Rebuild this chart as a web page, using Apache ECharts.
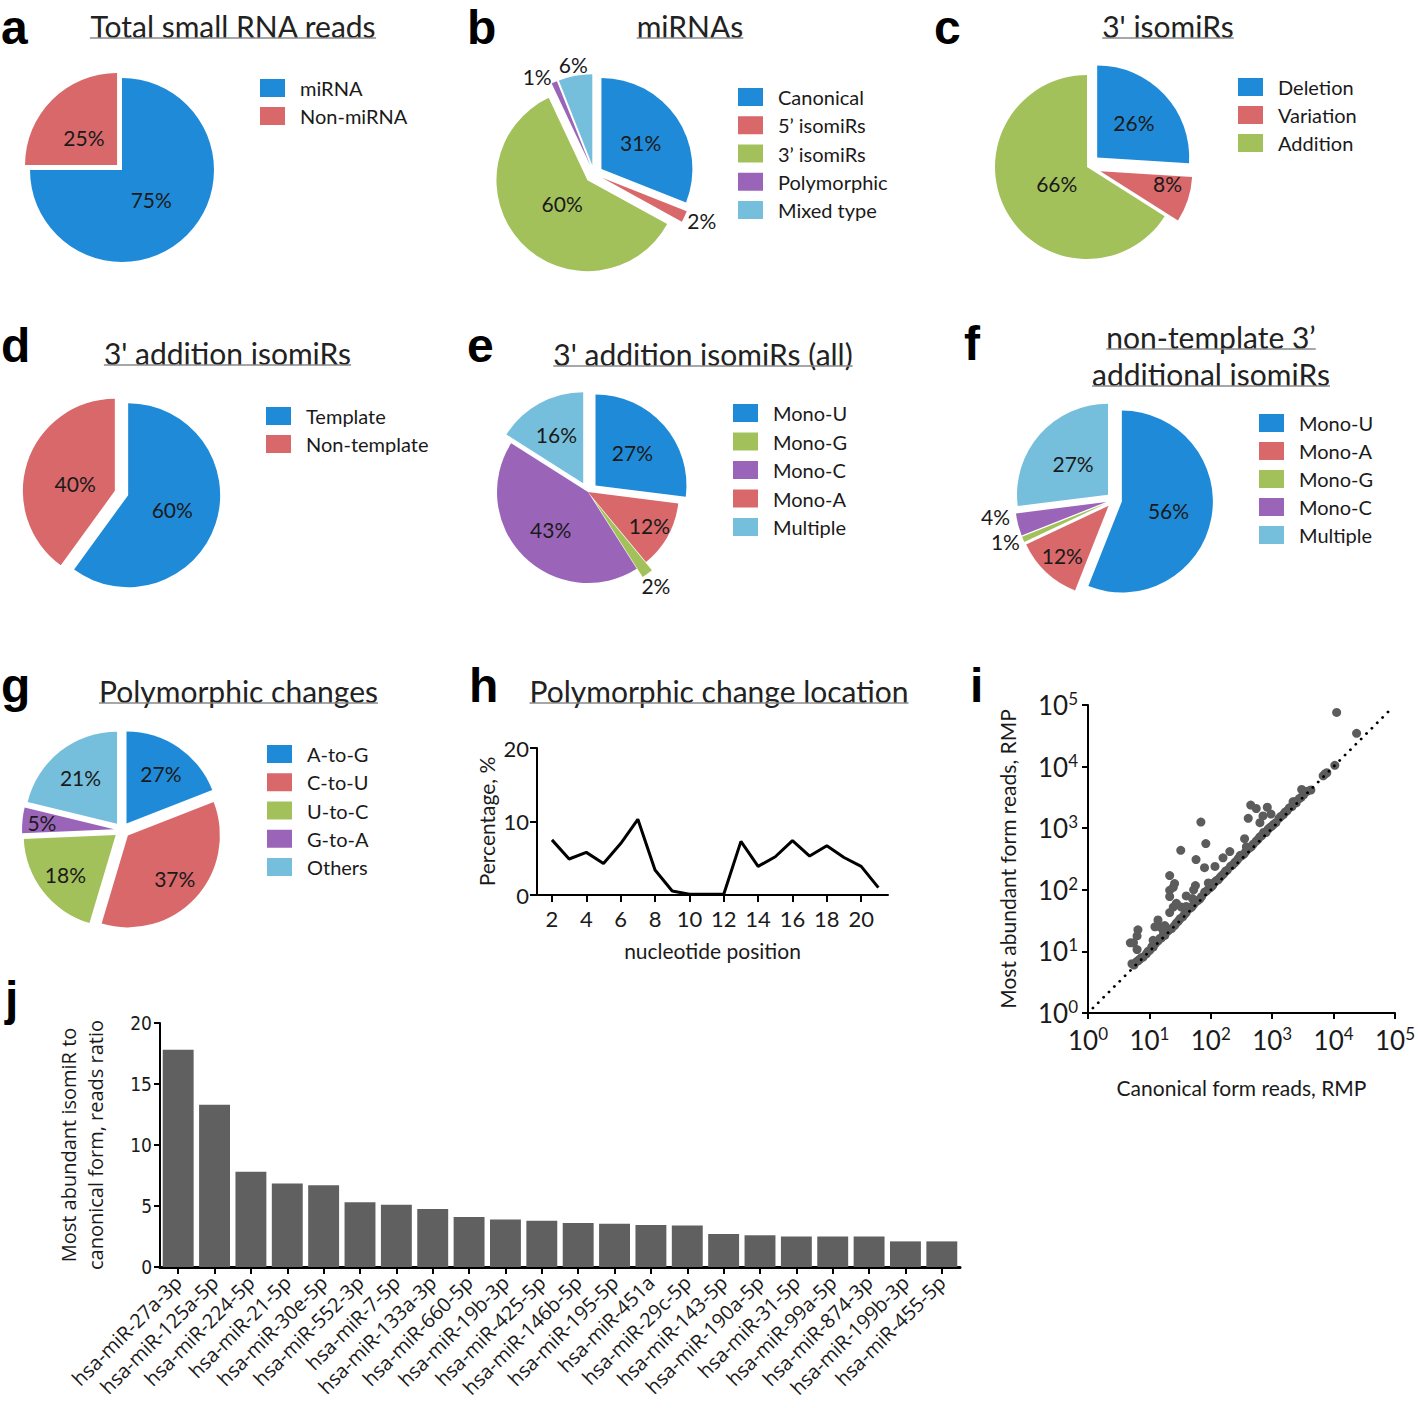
<!DOCTYPE html>
<html><head><meta charset="utf-8">
<script src="https://cdn.jsdelivr.net/npm/echarts@6/dist/echarts.min.js"></script>
<style>html,body{margin:0;padding:0;background:#fff}#c{width:1418px;height:1408px}</style>
</head><body><div id="c"></div>
<script>
// ---------------- DATA ----------------
const aNames = ['miRNA', 'Non-miRNA'];
const aValues = [75, 25];
const bNames = ['Canonical', '5’ isomiRs', '3’ isomiRs', 'Polymorphic', 'Mixed type'];
const bValues = [31, 2, 60, 1, 6];
const cNames = ['Deletion', 'Variation', 'Addition'];
const cValues = [26, 8, 66];
const dNames = ['Template', 'Non-template'];
const dValues = [60, 40];
const eNames = ['Mono-U', 'Mono-A', 'Mono-G', 'Mono-C', 'Multiple'];
const eValues = [27, 12, 2, 43, 16];
const eLegendOrder = ['Mono-U', 'Mono-G', 'Mono-C', 'Mono-A', 'Multiple'];
const fNames = ['Mono-U', 'Mono-A', 'Mono-G', 'Mono-C', 'Multiple'];
const fValues = [56, 12, 1, 4, 27];
const gNames = ['A-to-G', 'C-to-U', 'U-to-C', 'G-to-A', 'Others'];
const gValues = [19.1, 35.5, 19.7, 4.5, 21.2];      // slice sizes as drawn
const gLabels = ['27%', '37%', '18%', '5%', '21%']; // percentages as printed

const hPositions = [2, 3, 4, 5, 6, 7, 8, 9, 10, 11, 12, 13, 14, 15, 16, 17, 18, 19, 20, 21];
const hPercent = [7.5, 4.9, 5.8, 4.3, 7.0, 10.3, 3.4, 0.55, 0.1, 0.1, 0.1, 7.3, 3.9, 5.2, 7.4, 5.3, 6.7, 5.1, 3.9, 1.0];
const hTicks = [2, 4, 6, 8, 10, 12, 14, 16, 18, 20];

// [canonical form reads, most abundant form reads] (RMP)
const iPoints = [
  [5.2,6.3],[5.6,6.0],[6.2,6.8],[6.6,7.1],[6.9,7.4],[7.4,7.9],[7.9,8.1],[8.9,9.1],[9.5,10.0],[10.2,10.5],
  [11.0,12.0],[11.5,11.7],[12.6,13.5],[13.8,14.8],[14.8,16.2],[15.8,16.6],[17.0,19.1],[17.8,18.2],[20.0,21.4],[21.4,22.9],
  [22.9,23.4],[25.7,26.3],[27.5,28.8],[29.5,30.9],[31.6,33.9],[34.7,36.3],[37.2,39.8],[39.8,42.7],[45.7,50.1],[49.0,52.5],
  [52.5,57.5],[56.2,63.1],[60.3,66.1],[66.1,70.8],[70.8,77.6],[79.4,91.2],[85.1,95.5],[93.3,105],[100,110],[107,117],
  [115,132],[123,141],[132,145],[141,158],[151,170],[162,182],[174,200],[186,209],[209,240],[224,251],
  [245,275],[263,295],[282,324],[302,363],[316,355],[347,380],[372,417],[398,457],[427,479],[457,501],
  [490,550],[550,617],[589,661],[631,724],[676,759],[724,851],[794,851],[851,955],[912,1023],[977,1072],
  [1047,1148],[1148,1230],[1288,1445],[1380,1549],[1514,1660],[1622,1820],[1738,1905],[1905,2138],[2089,2239],[2291,2692],
  [2455,2570],[2754,3020],[2951,3162],[3236,3467],[3715,3981],[4266,4169],[6761,7079],[7244,7586],[7762,7943],[10470,10470],
  [11220,75860],[23710,34670],[3020,4266],[2188,2692],[447,2371],[550,2089],[407,1445],[832,2188],[708,1585],[631,1230],
  [955,1698],[69,1259],[83,562],[355,676],[380,501],[32.4,437],[57.5,309],[204,417],[158,331],[79,229],
  [117,240],[21.4,170],[25.7,126],[21.4,98],[24.5,110],[21.4,77.6],[56.2,117],[52.5,100],[91.2,129],[39.8,79.4],
  [50.1,72.4],[33.1,52.5],[24.5,52.5],[21.4,42.7],[4.9,13.8],[5.5,13.8],[6.3,17.8],[6.5,22.4],[6.3,10.7],[13.8,32.4],
  [12.3,25.1],[14.8,25.1],[11.5,15.1],[16.6,22.4],[17.8,26.3],[39.8,53.7],[27.5,60.3]
];
const iIdentity = [1.2, 90000]; // y = x reference line ends

const jNames = ['hsa-miR-27a-3p','hsa-miR-125a-5p','hsa-miR-224-5p','hsa-miR-21-5p','hsa-miR-30e-5p','hsa-miR-552-3p',
  'hsa-miR-7-5p','hsa-miR-133a-3p','hsa-miR-660-5p','hsa-miR-19b-3p','hsa-miR-425-5p','hsa-miR-146b-5p','hsa-miR-195-5p',
  'hsa-miR-451a','hsa-miR-29c-5p','hsa-miR-143-5p','hsa-miR-190a-5p','hsa-miR-31-5p','hsa-miR-99a-5p','hsa-miR-874-3p',
  'hsa-miR-199b-3p','hsa-miR-455-5p'];
const jValues = [17.8, 13.3, 7.8, 6.85, 6.7, 5.3, 5.1, 4.75, 4.1, 3.9, 3.8, 3.6, 3.55, 3.45, 3.4, 2.7, 2.6, 2.5, 2.5, 2.5, 2.1, 2.1];

// ---------------- STYLE ----------------
const FONT = 'Lato, "Open sans", sans-serif';
const BLUE = '#1F8BD8', RED = '#D9686B', GREEN = '#A3C15B', PURPLE = '#9A65B8', LBLUE = '#76BFDC';
const pct = v => v + '%';

// lab: per slice [distance from pie centre as a fraction of radius, extra dx, extra dy]
function pie(names, values, labels, cols, center, r, offset, sel, lab) {
  return {
    type: 'pie', center: center, radius: r, startAngle: 90, clockwise: true,
    selectedMode: 'multiple', selectedOffset: offset, avoidLabelOverlap: false,
    emphasis: { disabled: true }, animation: false,
    label: { show: true, position: 'inside', fontFamily: FONT, fontSize: 21, color: '#1a1a1a',
      formatter: p => labels[p.dataIndex] },
    labelLine: { show: false },
    labelLayout: function (p) {
      const L = lab[p.dataIndex];
      const R = p.labelRect;
      const lx = R.x + R.width / 2, ly = R.y + R.height / 2;
      const vx = lx - center[0], vy = ly - center[1];
      const d = Math.hypot(vx, vy) || 1;
      const target = L[0] * r - (sel[p.dataIndex] ? offset : 0);
      const k = (target - d) / d;
      return { dx: vx * k + (L[1] || 0), dy: vy * k + (L[2] || 0) };
    },
    data: names.map((n, i) => ({ name: n, value: values[i], selected: sel[i], itemStyle: { color: cols[i] } }))
  };
}

function legend(names, left, top, gap) {
  return { orient: 'vertical', left: left, top: top, padding: 0, itemWidth: 25, itemHeight: 18, itemGap: gap,
    icon: 'rect', selectedMode: false, data: names,
    textStyle: { fontFamily: FONT, fontSize: 20, color: '#1a1a1a', lineHeight: 20, padding: [0, 0, 0, 10] } };
}

const ctx = document.createElement('canvas').getContext('2d');
function textW(t, font) { ctx.font = font; return ctx.measureText(t).width; }

// panel letters: [letter, left x, vertical middle y]
const letters = [['a', 1, 27.5], ['b', 467, 27.5], ['c', 934, 27.5], ['d', 1, 345], ['e', 467, 345], ['f', 964, 343],
  ['g', 1, 685], ['h', 469, 685], ['i', 970, 685], ['j', 5, 998]];
const titles = [['Total small RNA reads', 233, 36], ['miRNAs', 690, 36], ["3' isomiRs", 1168, 36],
  ["3' addition isomiRs", 227.5, 363], ["3' addition isomiRs (all)", 703, 364],
  ['non-template 3’', 1211, 347], ['additional isomiRs', 1211, 384],
  ['Polymorphic changes', 238.5, 701], ['Polymorphic change location', 719, 701]];

const graphic = [];
letters.forEach(([t, x, y]) => graphic.push({ type: 'text', x: x, y: y,
  style: { text: t, fontFamily: '"Liberation Sans", Arial, sans-serif', fontWeight: 'bold', fontSize: 48,
    lineHeight: 36, fill: '#000', align: 'left', verticalAlign: 'middle' } }));
titles.forEach(([t, x, y]) => {
  graphic.push({ type: 'text', x: x, y: y - 10,
    style: { text: t, fontFamily: FONT, fontSize: 30, lineHeight: 30, fill: '#222', align: 'center', verticalAlign: 'middle' } });
  const w = textW(t, '30px Lato');
  graphic.push({ type: 'line', shape: { x1: x - w / 2, y1: y + 2, x2: x + w / 2, y2: y + 2 },
    style: { stroke: '#8a8a8a', lineWidth: 1.5 } });
});

const axisLbl = { fontFamily: FONT, fontSize: 22, color: '#1a1a1a' };
const supRich = {
  b: { fontFamily: FONT, fontSize: 26, color: '#1a1a1a', lineHeight: 30 },
  s: { fontFamily: FONT, fontSize: 17, color: '#1a1a1a', verticalAlign: 'top', lineHeight: 17 }
};
const logFmt = v => '{b|10}{s|' + Math.round(Math.log10(v)) + '}';
const blackLine = { show: true, lineStyle: { color: '#000', width: 2 } };

const option = {
  animation: false,
  backgroundColor: '#fff',
  graphic: graphic,
  legend: [
    legend(aNames, 260, 78, 8),
    legend(bNames, 738, 87, 8.25),
    legend(cNames, 1238, 77, 8),
    legend(dNames, 266, 406, 8),
    legend(eLegendOrder, 733, 403, 8.5),
    legend(fNames, 1259, 413, 8),
    legend(gNames, 267, 744, 8.25)
  ],
  grid: [
    { left: 537, top: 748, width: 351, height: 147 },
    { left: 1088, top: 705, width: 307, height: 308 },
    { left: 160, top: 1023, width: 800, height: 244 }
  ],
  xAxis: [
    { gridIndex: 0, type: 'value', min: 1.13, max: 21.56, axisLine: blackLine,
      axisTick: { show: true, customValues: hTicks, length: 7, lineStyle: { color: '#000', width: 2 } },
      axisLabel: Object.assign({ customValues: hTicks, margin: 12 }, axisLbl), splitLine: { show: false },
      name: 'nucleotide position', nameLocation: 'middle', nameGap: 45,
      nameTextStyle: { fontFamily: FONT, fontSize: 21, color: '#1a1a1a' } },
    { gridIndex: 1, type: 'log', logBase: 10, min: 1, max: 100000, axisLine: blackLine,
      axisTick: { show: true, length: 6, lineStyle: { color: '#000', width: 2 } },
      axisLabel: { formatter: logFmt, rich: supRich, margin: 12 }, splitLine: { show: false }, minorTick: { show: false },
      name: 'Canonical form reads, RMP', nameLocation: 'middle', nameGap: 64,
      nameTextStyle: { fontFamily: FONT, fontSize: 21, color: '#1a1a1a' } },
    { gridIndex: 2, type: 'category', data: jNames,
      axisLine: { show: true, lineStyle: { color: '#000', width: 3 } },
      axisTick: { show: true, alignWithLabel: true, length: 7, lineStyle: { color: '#000', width: 2 } },
      axisLabel: { interval: 0, rotate: 45, margin: 12, fontFamily: '"Open Sans", sans-serif', fontSize: 20, color: '#1a1a1a' } }
  ],
  yAxis: [
    { gridIndex: 0, type: 'value', min: 0, max: 20, interval: 10, axisLine: blackLine,
      axisTick: { show: true, length: 7, lineStyle: { color: '#000', width: 2 } },
      axisLabel: Object.assign({ margin: 8 }, axisLbl), splitLine: { show: false },
      name: 'Percentage, %', nameLocation: 'middle', nameGap: 40, nameRotate: 90,
      nameTextStyle: { fontFamily: FONT, fontSize: 21, color: '#1a1a1a' } },
    { gridIndex: 1, type: 'log', logBase: 10, min: 1, max: 100000, axisLine: blackLine,
      axisTick: { show: true, length: 6, lineStyle: { color: '#000', width: 2 } },
      axisLabel: { formatter: logFmt, rich: supRich, margin: 10 }, splitLine: { show: false },
      name: 'Most abundant form reads, RMP', nameLocation: 'middle', nameGap: 70, nameRotate: 90,
      nameTextStyle: { fontFamily: FONT, fontSize: 21, color: '#1a1a1a' } },
    { gridIndex: 2, type: 'value', min: 0, max: 20, interval: 5, axisLine: blackLine,
      axisTick: { show: true, length: 6, lineStyle: { color: '#000', width: 2 } },
      axisLabel: { margin: 8, fontFamily: '"DejaVu Sans Condensed", "Liberation Sans Narrow", sans-serif', fontSize: 19, color: '#1a1a1a' },
      splitLine: { show: false },
      name: 'Most abundant isomiR to\ncanonical form, reads ratio', nameLocation: 'middle', nameGap: 51, nameRotate: 90,
      nameTextStyle: { fontFamily: '"Open Sans", sans-serif', fontSize: 20, color: '#1a1a1a', lineHeight: 27 } }
  ],
  series: [
    pie(aNames, aValues, aValues.map(pct), [BLUE, RED], [122, 170], 92, 7, [false, true],
      [[0.45], [0.54, -3, 3]]),
    pie(bNames, bValues, bValues.map(pct), [BLUE, RED, GREEN, PURPLE, LBLUE], [594, 174], 91, 9,
      [true, true, true, true, true], [[0.62], [1.31, 0, -4], [0.48], [1.24, -12, 6], [1.22]]),
    pie(cNames, cValues, cValues.map(pct), [BLUE, RED, GREEN], [1087, 167], 92, 14, [true, true, false],
      [[0.70], [0.92, 0, -10], [0.375]]),
    pie(dNames, dValues, dValues.map(pct), [BLUE, RED], [121.5, 493], 92, 7, [true, true],
      [[0.58], [0.53, 0, 6]]),
    pie(eNames, eValues, eValues.map(pct), [BLUE, RED, GREEN, PURPLE, LBLUE], [588, 492], 91, 10,
      [true, false, true, false, true], [[0.65], [0.77], [1.27], [0.58], [0.72]]),
    pie(fNames, fValues, fValues.map(pct), [BLUE, RED, GREEN, PURPLE, LBLUE], [1114, 500], 91, 8,
      [true, true, true, true, true], [[0.61], [0.83], [1.30, 0, -5], [1.31, -3, -13], [0.60]]),
    pie(gNames, gValues, gLabels, [BLUE, RED, GREEN, PURPLE, LBLUE], [122, 830], 92, 8,
      [true, true, true, true, true], [[0.75], [0.78], [0.78], [0.875], [0.73]]),
    { type: 'line', name: 'location', xAxisIndex: 0, yAxisIndex: 0, symbol: 'none',
      lineStyle: { color: '#000', width: 3 }, data: hPositions.map((p, i) => [p, hPercent[i]]) },
    { type: 'scatter', name: 'reads', xAxisIndex: 1, yAxisIndex: 1, symbolSize: 9,
      itemStyle: { color: '#5c5c5c', opacity: 1 }, data: iPoints },
    { type: 'line', name: 'identity', xAxisIndex: 1, yAxisIndex: 1, symbol: 'none',
      lineStyle: { color: '#000', width: 2.8, type: [0.1, 7.5], cap: 'round' }, data: iIdentity.map(v => [v, v]) },
    { type: 'bar', name: 'ratio', xAxisIndex: 2, yAxisIndex: 2, barCategoryGap: '15%',
      itemStyle: { color: '#606060' }, data: jValues }
  ]
};

const chart = echarts.init(document.getElementById('c'), null, { renderer: 'svg', width: 1418, height: 1408 });
chart.setOption(option);
</script>
</body></html>
